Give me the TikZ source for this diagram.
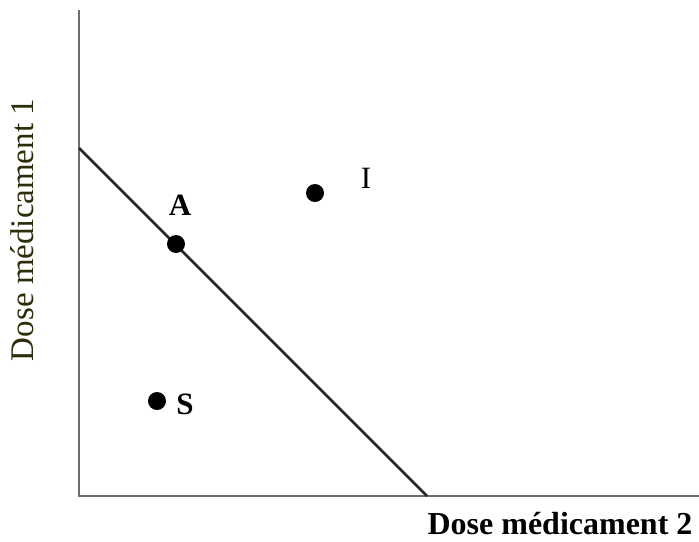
\documentclass[tikz,border=0pt]{standalone}
\usepackage{fontspec}
\setmainfont{Liberation Serif}
\usetikzlibrary{positioning}
\definecolor{axisgray}{RGB}{110,110,110}
\definecolor{labelolive}{RGB}{45,45,10}
\tikzset{
  doseaxis/.style={draw=axisgray, line width=2pt},
  isobole/.style={draw=black!85, line width=2.8pt},
  dosedot/.style={circle, fill=black, inner sep=0pt, minimum size=18pt},
  dotlabel/.style={font=\fontsize{31}{33}\selectfont\bfseries, inner sep=0pt},
  axislabel/.style={font=\fontsize{33}{35}\selectfont, inner sep=0pt}
}

\begin{document}
\begin{tikzpicture}[x=1pt, y=-1pt]
\useasboundingbox (0,0) rectangle (699,541);
\coordinate (origin) at (79,496);
\coordinate (ytop) at (79,10);
\coordinate (xend) at (699,496);
\coordinate (linetop) at (79,148);
\coordinate (linebot) at (427,496);
\draw[doseaxis] (ytop) -- (origin) -- (xend);
\draw[isobole] (linetop) -- (linebot);
\node[dosedot] (A) at (176,244) {};
\node[dosedot] (I) at (315,193) {};
\node[dosedot] (S) at (157,401) {};
\node[dotlabel] (Alab) at (180,205) {A};
\node[dotlabel, font=\fontsize{31}{33}\selectfont] (Ilab) at (366,178) {I};
\node[dotlabel] (Slab) at (185,404) {S};
\node[axislabel, text=labelolive, rotate=90] (ylab) at (22,230) {Dose médicament 1};
\node[axislabel, font=\fontsize{32}{34}\selectfont\bfseries] (xlab) at (560,524) {Dose médicament 2};
\end{tikzpicture}
\end{document}
